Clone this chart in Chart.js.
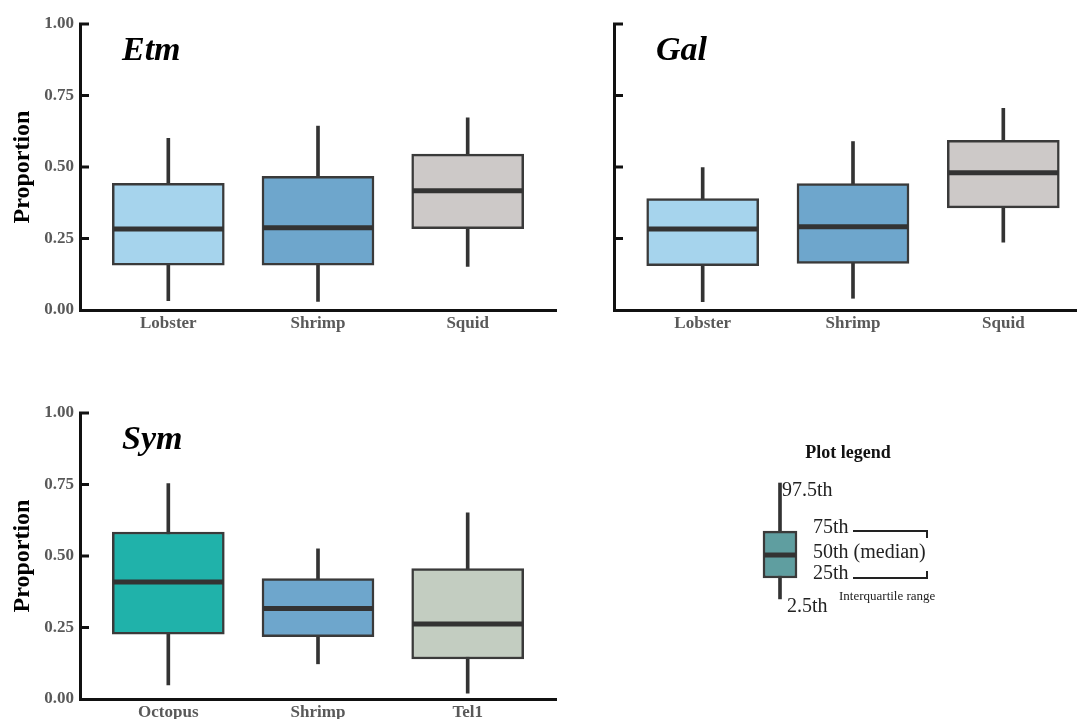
<!DOCTYPE html>
<html>
<head>
<meta charset="utf-8">
<script src="https://cdn.jsdelivr.net/npm/chart.js@4.4.1/dist/chart.umd.min.js"></script>
<style>
  html, body { margin: 0; padding: 0; background: #fff; overflow: hidden; }
  #wrap { position: relative; width: 1077px; height: 719px; overflow: hidden; }
  canvas { position: absolute; }
</style>
</head>
<body>
<div id="wrap">
  <canvas id="etm" width="570" height="340" style="left:0px;top:0px"></canvas>
  <canvas id="gal" width="560" height="340" style="left:560px;top:0px"></canvas>
  <canvas id="sym" width="570" height="340" style="left:0px;top:389px"></canvas>
  <canvas id="leg" width="230" height="190" style="left:740px;top:430px"></canvas>
</div>
<script>
// y axis
const yTickValues = [0, 0.25, 0.5, 0.75, 1];
const yTickLabels = ['0.00', '0.25', '0.50', '0.75', '1.00'];

// Etm panel
const etmCategories = ['Lobster', 'Shrimp', 'Squid'];
const etmLow    = [0.033, 0.030, 0.152];
const etmQ1     = [0.157, 0.157, 0.284];
const etmMedian = [0.283, 0.288, 0.417];
const etmQ3     = [0.443, 0.467, 0.545];
const etmHigh   = [0.600, 0.643, 0.672];

// Gal panel
const galCategories = ['Lobster', 'Shrimp', 'Squid'];
const galLow    = [0.029, 0.041, 0.237];
const galQ1     = [0.155, 0.163, 0.357];
const galMedian = [0.283, 0.291, 0.480];
const galQ3     = [0.390, 0.442, 0.593];
const galHigh   = [0.498, 0.589, 0.705];

// Sym panel
const symCategories = ['Octopus', 'Shrimp', 'Tel1'];
const symLow    = [0.049, 0.123, 0.020];
const symQ1     = [0.227, 0.218, 0.140];
const symMedian = [0.409, 0.316, 0.262];
const symQ3     = [0.584, 0.421, 0.456];
const symHigh   = [0.753, 0.525, 0.651];

// legend box (its own 0..1 scale)
const legendStats = { low: 0.111, q1: 0.221, median: 0.342, q3: 0.468, high: 0.721 };
const legendLabels = ['97.5th', '75th', '50th (median)', '25th', '2.5th', 'Interquartile range'];

const etmColors = ['#a6d4ed', '#6ea6cc', '#cdc9c8'];
const galColors = ['#a6d4ed', '#6ea6cc', '#cdc9c8'];
const symColors = ['#20b2aa', '#6ea6cc', '#c3cdc1'];

Chart.defaults.font.family = '"Liberation Serif", "Times New Roman", serif';
Chart.defaults.animation = false;

const AXIS = '#111';
const EDGE = '#3a3a3a';

// inward tick marks on the y axis + panel title
const panelDecor = {
  id: 'panelDecor',
  afterDraw(chart, args, opts) {
    const ctx = chart.ctx;
    const y = chart.scales.y;
    const left = chart.chartArea.left;
    ctx.save();
    ctx.strokeStyle = AXIS;
    ctx.lineWidth = 3;
    yTickValues.forEach(v => {
      if (v === 0) return;
      const py = y.getPixelForValue(v);
      ctx.beginPath();
      ctx.moveTo(left - 1, py);
      ctx.lineTo(left + 9, py);
      ctx.stroke();
    });
    ctx.fillStyle = '#000';
    ctx.font = 'italic bold 34px "Liberation Serif"';
    ctx.textBaseline = 'alphabetic';
    ctx.fillText(opts.title, left + 42, chart.chartArea.top + 36);
    ctx.restore();
  }
};

function makePanel(id, cats, low, q1, med, q3, high, colors, title, showY) {
  const xs = cats.map((c, i) => i + 1);
  new Chart(document.getElementById(id), {
    type: 'bar',
    data: {
      datasets: [
        {
          type: 'line',
          data: xs.map((x, i) => ({ x: x, y: med[i] })),
          showLine: false,
          pointStyle: 'line',
          pointRadius: 55,
          pointBorderWidth: 5,
          pointBorderColor: '#333',
          order: 0
        },
        {
          data: xs.map((x, i) => ({ x: x, y: [q1[i], q3[i]] })),
          backgroundColor: colors,
          borderColor: EDGE,
          borderWidth: 2.5,
          borderSkipped: false,
          barThickness: 112,
          grouped: false,
          order: 1
        },
        {
          data: xs.map((x, i) => ({ x: x, y: [low[i], high[i]] })),
          backgroundColor: '#333',
          borderWidth: 0,
          barThickness: 3,
          grouped: false,
          order: 2
        }
      ]
    },
    options: {
      responsive: false,
      devicePixelRatio: 1,
      events: [],
      layout: { autoPadding: false, padding: { top: 24, right: id === 'gal' ? 28 : 14, left: 0, bottom: 0 } },
      plugins: { legend: { display: false }, tooltip: { enabled: false }, panelDecor: { title: title } },
      scales: {
        x: {
          type: 'linear',
          min: 0.41,
          max: 3.59,
          offset: false,
          grid: { display: false, drawTicks: false },
          border: { display: true, color: AXIS, width: 3 },
          afterBuildTicks: s => { s.ticks = xs.map(v => ({ value: v })); },
          afterFit: s => { s.height = 30; },
          ticks: {
            padding: 3,
            color: '#595959',
            font: { size: 17, weight: 'bold' },
            callback: v => cats[v - 1]
          }
        },
        y: {
          min: 0,
          max: 1,
          grid: { display: false, drawTicks: false },
          border: { display: true, color: AXIS, width: 3 },
          afterBuildTicks: s => { s.ticks = yTickValues.map(v => ({ value: v })); },
          afterFit: s => { s.width = showY ? 80 : 54; },
          ticks: {
            display: showY,
            padding: 6,
            color: '#595959',
            font: { size: 17, weight: 'bold' },
            callback: v => yTickLabels[yTickValues.indexOf(v)]
          },
          title: {
            display: showY,
            text: 'Proportion',
            color: '#000',
            padding: { top: 8, bottom: 0 },
            font: { size: 24, weight: 'bold' }
          }
        }
      }
    },
    plugins: [panelDecor]
  });
}

makePanel('etm', etmCategories, etmLow, etmQ1, etmMedian, etmQ3, etmHigh, etmColors, 'Etm', true);
makePanel('gal', galCategories, galLow, galQ1, galMedian, galQ3, galHigh, galColors, 'Gal', false);
makePanel('sym', symCategories, symLow, symQ1, symMedian, symQ3, symHigh, symColors, 'Sym', true);

// legend panel
const legendText = {
  id: 'legendText',
  afterDraw(chart) {
    const ctx = chart.ctx;
    const x = chart.scales.x, y = chart.scales.y;
    const cx = x.getPixelForValue(1);
    const yHigh = y.getPixelForValue(legendStats.high);
    const yQ3 = y.getPixelForValue(legendStats.q3);
    const yMed = y.getPixelForValue(legendStats.median);
    const yQ1 = y.getPixelForValue(legendStats.q1);
    const yLow = y.getPixelForValue(legendStats.low);
    ctx.save();
    ctx.fillStyle = '#111';
    ctx.textAlign = 'center';
    ctx.textBaseline = 'middle';
    ctx.font = 'bold 18px "Liberation Serif"';
    ctx.fillText('Plot legend', cx + 68, chart.chartArea.top + 23);

    ctx.textAlign = 'left';
    ctx.fillStyle = '#222';
    ctx.font = '20px "Liberation Serif"';
    ctx.fillText(legendLabels[0], cx + 2, yHigh + 8);
    ctx.fillText(legendLabels[1], cx + 33, yQ3 - 3);
    ctx.fillText(legendLabels[2], cx + 33, yMed - 2);
    ctx.fillText(legendLabels[3], cx + 33, yQ1 - 4);
    ctx.fillText(legendLabels[4], cx + 7, yLow + 8);
    ctx.font = '13px "Liberation Serif"';
    ctx.fillText(legendLabels[5], cx + 59, yLow - 2);

    ctx.strokeStyle = '#222';
    ctx.lineWidth = 2;
    ctx.beginPath();
    ctx.moveTo(cx + 73, yQ3); ctx.lineTo(cx + 147, yQ3); ctx.lineTo(cx + 147, yQ3 + 7);
    ctx.moveTo(cx + 73, yQ1); ctx.lineTo(cx + 147, yQ1); ctx.lineTo(cx + 147, yQ1 - 7);
    ctx.stroke();
    ctx.restore();
  }
};

new Chart(document.getElementById('leg'), {
  type: 'bar',
  data: {
    datasets: [
      {
        type: 'line',
        data: [{ x: 1, y: legendStats.median }],
        showLine: false,
        pointStyle: 'line',
        pointRadius: 16,
        pointBorderWidth: 5,
        pointBorderColor: '#333',
        order: 0
      },
      {
        data: [{ x: 1, y: [legendStats.q1, legendStats.q3] }],
        backgroundColor: '#5f9ea0',
        borderColor: EDGE,
        borderWidth: 2.5,
        borderSkipped: false,
        barThickness: 34,
        grouped: false,
        order: 1
      },
      {
        data: [{ x: 1, y: [legendStats.low, legendStats.high] }],
        backgroundColor: '#333',
        borderWidth: 0,
        barThickness: 3,
        grouped: false,
        order: 2
      }
    ]
  },
  options: {
    responsive: false,
    devicePixelRatio: 1,
    events: [],
    layout: { autoPadding: false, padding: 0 },
    plugins: { legend: { display: false }, tooltip: { enabled: false } },
    scales: {
      x: { type: 'linear', min: 0, max: 5.75, display: false, offset: false },
      y: { min: 0, max: 1, display: false }
    }
  },
  plugins: [legendText]
});
</script>
</body>
</html>
